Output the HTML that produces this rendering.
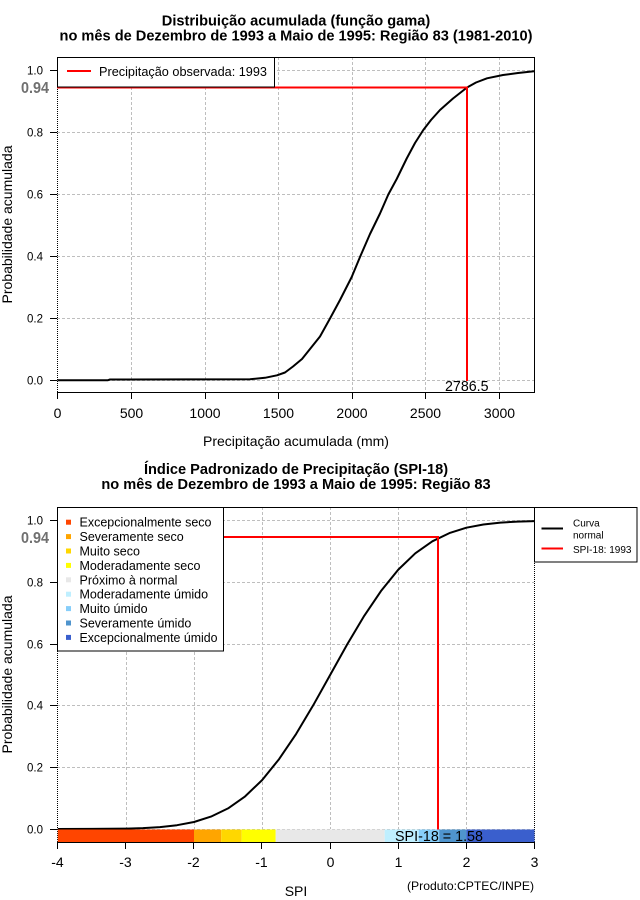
<!DOCTYPE html>
<html><head><meta charset="utf-8"><style>
html,body{margin:0;padding:0;background:#fff;}
svg{display:block;}
text{font-family:"Liberation Sans",Arial,sans-serif;}
</style></head><body>
<svg width="640" height="900" viewBox="0 0 640 900" xmlns="http://www.w3.org/2000/svg">
<rect width="640" height="900" fill="#fff"/>

<!-- ================= TOP PLOT ================= -->
<text x="296" y="25.5" font-size="14.6" font-weight="bold" text-anchor="middle">Distribuição acumulada (função gama)</text>
<text x="296" y="40.5" font-size="14.6" font-weight="bold" text-anchor="middle">no mês de Dezembro de 1993 a Maio de 1995: Região 83 (1981-2010)</text>

<!-- grid -->
<g stroke="#BEBEBE" stroke-width="1" stroke-dasharray="3,2" fill="none">
  <line x1="131.5" y1="57" x2="131.5" y2="392"/>
  <line x1="205.5" y1="57" x2="205.5" y2="392"/>
  <line x1="278.5" y1="57" x2="278.5" y2="392"/>
  <line x1="352.5" y1="57" x2="352.5" y2="392"/>
  <line x1="425.5" y1="57" x2="425.5" y2="392"/>
  <line x1="499.5" y1="57" x2="499.5" y2="392"/>
  <line x1="57" y1="380.5" x2="534" y2="380.5"/>
  <line x1="57" y1="318.5" x2="534" y2="318.5"/>
  <line x1="57" y1="256.5" x2="534" y2="256.5"/>
  <line x1="57" y1="194.5" x2="534" y2="194.5"/>
  <line x1="57" y1="132.5" x2="534" y2="132.5"/>
  <line x1="57" y1="70.5" x2="534" y2="70.5"/>
</g>
<!-- frame -->
<line x1="57.5" y1="57" x2="57.5" y2="392" stroke="#000" stroke-dasharray="1,1"/>
<line x1="57" y1="57.5" x2="535" y2="57.5" stroke="#000"/>
<line x1="534.5" y1="57" x2="534.5" y2="393" stroke="#000"/>
<line x1="57" y1="392.5" x2="535" y2="392.5" stroke="#000"/>

<!-- x ticks -->
<g stroke="#000" stroke-width="1">
  <line x1="57.5" y1="392" x2="57.5" y2="399"/>
  <line x1="131.5" y1="392" x2="131.5" y2="399"/>
  <line x1="205.5" y1="392" x2="205.5" y2="399"/>
  <line x1="278.5" y1="392" x2="278.5" y2="399"/>
  <line x1="352.5" y1="392" x2="352.5" y2="399"/>
  <line x1="425.5" y1="392" x2="425.5" y2="399"/>
  <line x1="499.5" y1="392" x2="499.5" y2="399"/>
</g>
<g font-size="14" text-anchor="middle">
  <text x="57.5" y="418">0</text>
  <text x="131.5" y="418">500</text>
  <text x="205" y="418">1000</text>
  <text x="278.5" y="418">1500</text>
  <text x="352" y="418">2000</text>
  <text x="425.5" y="418">2500</text>
  <text x="499.5" y="418">3000</text>
</g>
<text x="296" y="446" font-size="14" text-anchor="middle">Precipitação acumulada (mm)</text>

<!-- y ticks -->
<g stroke="#000" stroke-width="1">
  <line x1="50" y1="380.5" x2="57" y2="380.5"/>
  <line x1="50" y1="318.5" x2="57" y2="318.5"/>
  <line x1="50" y1="256.5" x2="57" y2="256.5"/>
  <line x1="50" y1="194.5" x2="57" y2="194.5"/>
  <line x1="50" y1="132.5" x2="57" y2="132.5"/>
  <line x1="50" y1="70.5" x2="57" y2="70.5"/>
</g>
<g font-size="11.5" text-anchor="end">
  <text x="43" y="384.5">0.0</text>
  <text x="43" y="322.5">0.2</text>
  <text x="43" y="260.5">0.4</text>
  <text x="43" y="198.5">0.6</text>
  <text x="43" y="136.5">0.8</text>
  <text x="43" y="74.5">1.0</text>
</g>
<text x="21" y="93" font-size="16" font-weight="bold" fill="#707070" textLength="28" lengthAdjust="spacingAndGlyphs">0.94</text>
<text transform="translate(12,224.5) rotate(-90)" font-size="14" text-anchor="middle">Probabilidade acumulada</text>

<!-- curve -->
<polyline fill="none" stroke="#000" stroke-width="2" stroke-linejoin="round" points="57.5,380.3 108,380.2 110,379.5 250,379.3 265,377.8 277,375.3 285,372.5 293,366.5 302,359 310,349 320,336.5 330,318.5 340,300 351.7,277 360,257 370,234 380,213.5 388.3,194.5 396.7,179 406.7,158.5 415,143 423.3,130 431,120 440,110 453,98.5 467,87.5 476,82.5 487,78.3 503,75 518,73 534,71.3"/>

<!-- red lines -->
<polyline fill="none" stroke="#FF0000" stroke-width="2" points="57,87.5 467,87.5 467,381"/>

<!-- legend top -->
<rect x="57.5" y="57.5" width="217" height="29.5" fill="#fff" stroke="#000"/>
<line x1="67" y1="71" x2="91" y2="71" stroke="#FF0000" stroke-width="2"/>
<text x="99" y="76" font-size="12.5" textLength="168" lengthAdjust="spacingAndGlyphs">Precipitação observada: 1993</text>

<text x="445" y="391" font-size="15" textLength="43.5" lengthAdjust="spacingAndGlyphs">2786.5</text>

<!-- ================= BOTTOM PLOT ================= -->
<text x="296" y="474" font-size="14.6" font-weight="bold" text-anchor="middle">Índice Padronizado de Precipitação (SPI-18)</text>
<text x="296" y="489" font-size="14.6" font-weight="bold" text-anchor="middle">no mês de Dezembro de 1993 a Maio de 1995: Região 83</text>

<g stroke="#BEBEBE" stroke-width="1" stroke-dasharray="3,2" fill="none">
  <line x1="126.5" y1="507" x2="126.5" y2="829"/>
  <line x1="194.5" y1="507" x2="194.5" y2="829"/>
  <line x1="262.5" y1="507" x2="262.5" y2="829"/>
  <line x1="330.5" y1="507" x2="330.5" y2="829"/>
  <line x1="398.5" y1="507" x2="398.5" y2="829"/>
  <line x1="466.5" y1="507" x2="466.5" y2="829"/>
  <line x1="57" y1="829.5" x2="534" y2="829.5"/>
  <line x1="57" y1="767.5" x2="534" y2="767.5"/>
  <line x1="57" y1="705.5" x2="534" y2="705.5"/>
  <line x1="57" y1="644.5" x2="534" y2="644.5"/>
  <line x1="57" y1="582.5" x2="534" y2="582.5"/>
  <line x1="57" y1="520.5" x2="534" y2="520.5"/>
</g>
<line x1="57.5" y1="507" x2="57.5" y2="842" stroke="#000" stroke-dasharray="1,1"/>
<line x1="534.5" y1="507" x2="534.5" y2="842" stroke="#000" stroke-dasharray="1,1"/>
<line x1="57" y1="507.5" x2="535" y2="507.5" stroke="#000"/>

<!-- curve -->
<polyline fill="none" stroke="#000" stroke-width="2" stroke-linejoin="round" points="57.8,829 91.85,828.9 125.9,828.6 142.9,828.1 159.95,827.1 177,825.2 194,822 211,816.6 228.05,808.4 245.1,796.4 262.1,780.1 279.1,759.1 296.15,733.9 313.2,705.3 330.2,674.85 347.2,644.4 364.25,615.8 381.3,590.6 398.3,569.6 415.3,553.3 432.35,541.3 449.4,533.1 466.4,527.7 483.4,524.5 500.45,522.6 517.5,521.6 534.5,521.1"/>

<!-- red lines -->
<polyline fill="none" stroke="#FF0000" stroke-width="2" points="57,537 438,537 438,831"/>

<!-- colour bar -->
<g>
  <rect x="57.8" y="829.5" width="136.2" height="12.5" fill="#FF4500"/>
  <rect x="194" y="829.5" width="27.2" height="12.5" fill="#FFA500"/>
  <rect x="221.2" y="829.5" width="20.5" height="12.5" fill="#FFD700"/>
  <rect x="241.7" y="829.5" width="34" height="12.5" fill="#FFFF00"/>
  <rect x="275.7" y="829.5" width="109" height="12.5" fill="#E8E8E8"/>
  <rect x="384.7" y="829.5" width="34" height="12.5" fill="#BFEFFF"/>
  <rect x="418.7" y="829.5" width="20.5" height="12.5" fill="#87CEFA"/>
  <rect x="439.2" y="829.5" width="27.2" height="12.5" fill="#4F94CD"/>
  <rect x="466.4" y="829.5" width="68.1" height="12.5" fill="#3A5FCD"/>
</g>
<line x1="57" y1="842.5" x2="535" y2="842.5" stroke="#000"/>
<text x="395" y="841" font-size="15" textLength="88" lengthAdjust="spacingAndGlyphs">SPI-18 = 1.58</text>

<!-- x ticks -->
<g stroke="#000" stroke-width="1">
  <line x1="57.5" y1="842" x2="57.5" y2="849"/>
  <line x1="125.5" y1="842" x2="125.5" y2="849"/>
  <line x1="193.5" y1="842" x2="193.5" y2="849"/>
  <line x1="261.5" y1="842" x2="261.5" y2="849"/>
  <line x1="330.5" y1="842" x2="330.5" y2="849"/>
  <line x1="398.5" y1="842" x2="398.5" y2="849"/>
  <line x1="466.5" y1="842" x2="466.5" y2="849"/>
  <line x1="534.5" y1="842" x2="534.5" y2="849"/>
</g>
<g font-size="14" text-anchor="middle">
  <text x="57.5" y="867">-4</text>
  <text x="125.5" y="867">-3</text>
  <text x="193.5" y="867">-2</text>
  <text x="261.5" y="867">-1</text>
  <text x="330.5" y="867">0</text>
  <text x="398.5" y="867">1</text>
  <text x="466.5" y="867">2</text>
  <text x="534.5" y="867">3</text>
</g>
<text x="296" y="896" font-size="14" text-anchor="middle">SPI</text>
<text x="407" y="890" font-size="12" textLength="127" lengthAdjust="spacingAndGlyphs">(Produto:CPTEC/INPE)</text>

<!-- y ticks -->
<g stroke="#000" stroke-width="1">
  <line x1="50" y1="829.5" x2="57" y2="829.5"/>
  <line x1="50" y1="767.5" x2="57" y2="767.5"/>
  <line x1="50" y1="705.5" x2="57" y2="705.5"/>
  <line x1="50" y1="644.5" x2="57" y2="644.5"/>
  <line x1="50" y1="582.5" x2="57" y2="582.5"/>
  <line x1="50" y1="520.5" x2="57" y2="520.5"/>
</g>
<g font-size="11.5" text-anchor="end">
  <text x="43" y="833.5">0.0</text>
  <text x="43" y="771.5">0.2</text>
  <text x="43" y="709.5">0.4</text>
  <text x="43" y="648.5">0.6</text>
  <text x="43" y="586.5">0.8</text>
  <text x="43" y="524.5">1.0</text>
</g>
<text x="21" y="543" font-size="16" font-weight="bold" fill="#707070" textLength="28" lengthAdjust="spacingAndGlyphs">0.94</text>
<text transform="translate(12,674.5) rotate(-90)" font-size="14" text-anchor="middle">Probabilidade acumulada</text>

<!-- left legend -->
<rect x="57.5" y="507.5" width="166" height="143.5" fill="#fff" stroke="#000"/>
<g>
  <rect x="66" y="519.7" width="5" height="5" fill="#FF4500"/>
  <rect x="66" y="534.1" width="5" height="5" fill="#FFA500"/>
  <rect x="66" y="548.5" width="5" height="5" fill="#FFD700"/>
  <rect x="66" y="562.9" width="5" height="5" fill="#FFFF00"/>
  <rect x="66" y="577.3" width="5" height="5" fill="#E8E8E8"/>
  <rect x="66" y="591.7" width="5" height="5" fill="#BFEFFF"/>
  <rect x="66" y="606.1" width="5" height="5" fill="#87CEFA"/>
  <rect x="66" y="620.5" width="5" height="5" fill="#4F94CD"/>
  <rect x="66" y="634.9" width="5" height="5" fill="#3A5FCD"/>
</g>
<g font-size="12.5">
  <text x="79.5" y="526.7" textLength="132" lengthAdjust="spacingAndGlyphs">Excepcionalmente seco</text>
  <text x="79.5" y="541.1">Severamente seco</text>
  <text x="79.5" y="555.5">Muito seco</text>
  <text x="79.5" y="569.9">Moderadamente seco</text>
  <text x="79.5" y="584.3">Próximo à normal</text>
  <text x="79.5" y="598.7">Moderadamente úmido</text>
  <text x="79.5" y="613.1">Muito úmido</text>
  <text x="79.5" y="627.5">Severamente úmido</text>
  <text x="79.5" y="641.9" textLength="138" lengthAdjust="spacingAndGlyphs">Excepcionalmente úmido</text>
</g>

<!-- right legend -->
<rect x="534.5" y="507.5" width="102.5" height="54.5" fill="#fff" stroke="#000"/>
<line x1="541.5" y1="528.5" x2="563" y2="528.5" stroke="#000" stroke-width="2"/>
<line x1="541.5" y1="548.5" x2="563" y2="548.5" stroke="#FF0000" stroke-width="2"/>
<g font-size="10">
  <text x="573" y="526.7">Curva</text>
  <text x="573" y="538.3">normal</text>
  <text x="573" y="553" textLength="58.5" lengthAdjust="spacingAndGlyphs">SPI-18: 1993</text>
</g>
</svg>
</body></html>
